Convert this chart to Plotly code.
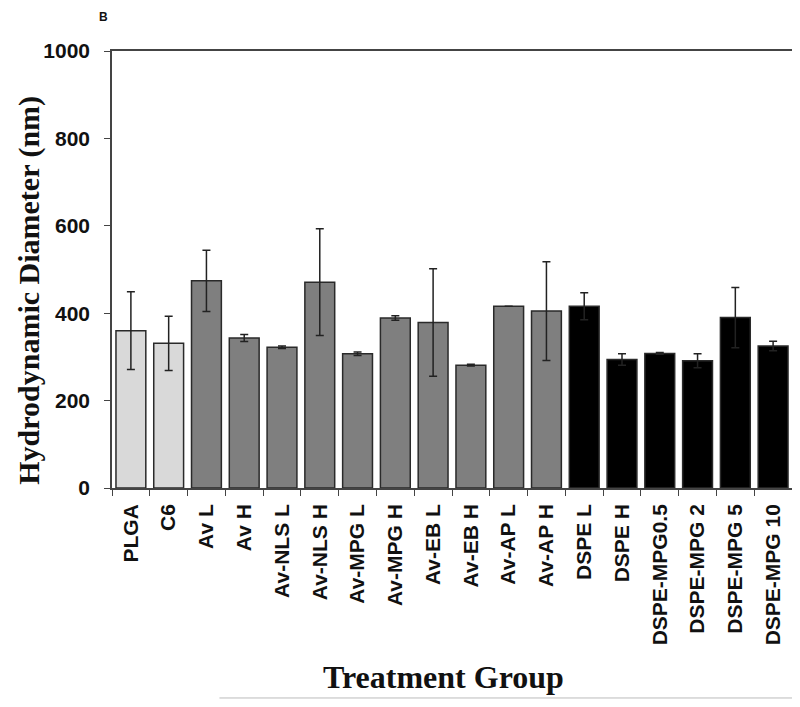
import plotly.graph_objects as go

categories = ["PLGA", "C6", "Av L", "Av H", "Av-NLS L", "Av-NLS H", "Av-MPG L", "Av-MPG H",
              "Av-EB L", "Av-EB H", "Av-AP L", "Av-AP H", "DSPE L", "DSPE H",
              "DSPE-MPG0.5", "DSPE-MPG 2", "DSPE-MPG 5", "DSPE-MPG 10"]
diameters = [360, 331, 474, 343, 322, 471, 307, 389, 379, 281, 416, 405, 416, 294, 308, 291, 390, 325]
errors = [89, 62, 70, 8, 3, 122, 4, 5, 123, 2, 0, 113, 31, 13, 2, 16, 69, 11]
groups = ["ctrl", "ctrl"] + ["av"] * 10 + ["dspe"] * 6
group_colors = {"ctrl": "#d9d9d9", "av": "#7f7f7f", "dspe": "#000000"}
y_ticks = [0, 200, 400, 600, 800, 1000]

fig = go.Figure()
fig.add_trace(go.Bar(
    x=categories, y=diameters,
    marker=dict(color=[group_colors[g] for g in groups], line=dict(color="#2a2a2a", width=1.5)),
    error_y=dict(type="data", array=errors, visible=True, color="#222222", thickness=1.5, width=4),
    showlegend=False,
))

serif = "Liberation Serif, Times New Roman"
sans = "Liberation Sans, Arial"

fig.update_layout(
    width=784, height=691,
    margin=dict(l=104, r=0, t=43, b=211),
    paper_bgcolor="white", plot_bgcolor="white",
    bargap=0.21,
    font=dict(family=sans, color="#111111"),
    xaxis=dict(
        type="category", tickangle=-90, tickson="boundaries", automargin=False,
        ticks="outside", ticklen=6, tickcolor="#444", tickwidth=1, ticklabelstandoff=6,
        tickfont=dict(family=sans, size=21, color="#111"),
        showline=True, linecolor="#444", linewidth=1.5, mirror=True,
        tickprefix="<b>", ticksuffix="</b>",
    ),
    yaxis=dict(
        range=[0, 1000], tickvals=y_ticks, ticktext=[f"<b>{v}</b>" for v in y_ticks],
        automargin=False,
        ticks="outside", ticklen=6, tickcolor="#444", tickwidth=1, ticklabelstandoff=10,
        tickfont=dict(family=sans, size=21, color="#111"),
        showline=True, linecolor="#444", linewidth=1.5, mirror=True,
        showgrid=False, zeroline=False,
    ),
    annotations=[
        dict(text="<b>B</b>", xref="paper", yref="paper", x=-0.0118, y=1.078,
             xanchor="center", yanchor="middle", showarrow=False,
             font=dict(family=sans, size=12, color="#111")),
        dict(text="<b>Treatment Group</b>", xref="paper", yref="paper", x=0.488, y=-0.433,
             xanchor="center", yanchor="middle", showarrow=False,
             font=dict(family=serif, size=32, color="#111")),
        dict(text="<b>Hydrodynamic Diameter (nm)</b>", xref="paper", yref="paper",
             x=-0.1225, y=0.453, textangle=-90,
             xanchor="center", yanchor="middle", showarrow=False,
             font=dict(family=serif, size=30, color="#111")),
    ],
    shapes=[dict(type="line", xref="paper", yref="paper", x0=0.158, x1=1.0, y0=-0.4805, y1=-0.4805,
                 line=dict(color="#bbbbbb", width=1))],
)

fig.write_html("out.html")
